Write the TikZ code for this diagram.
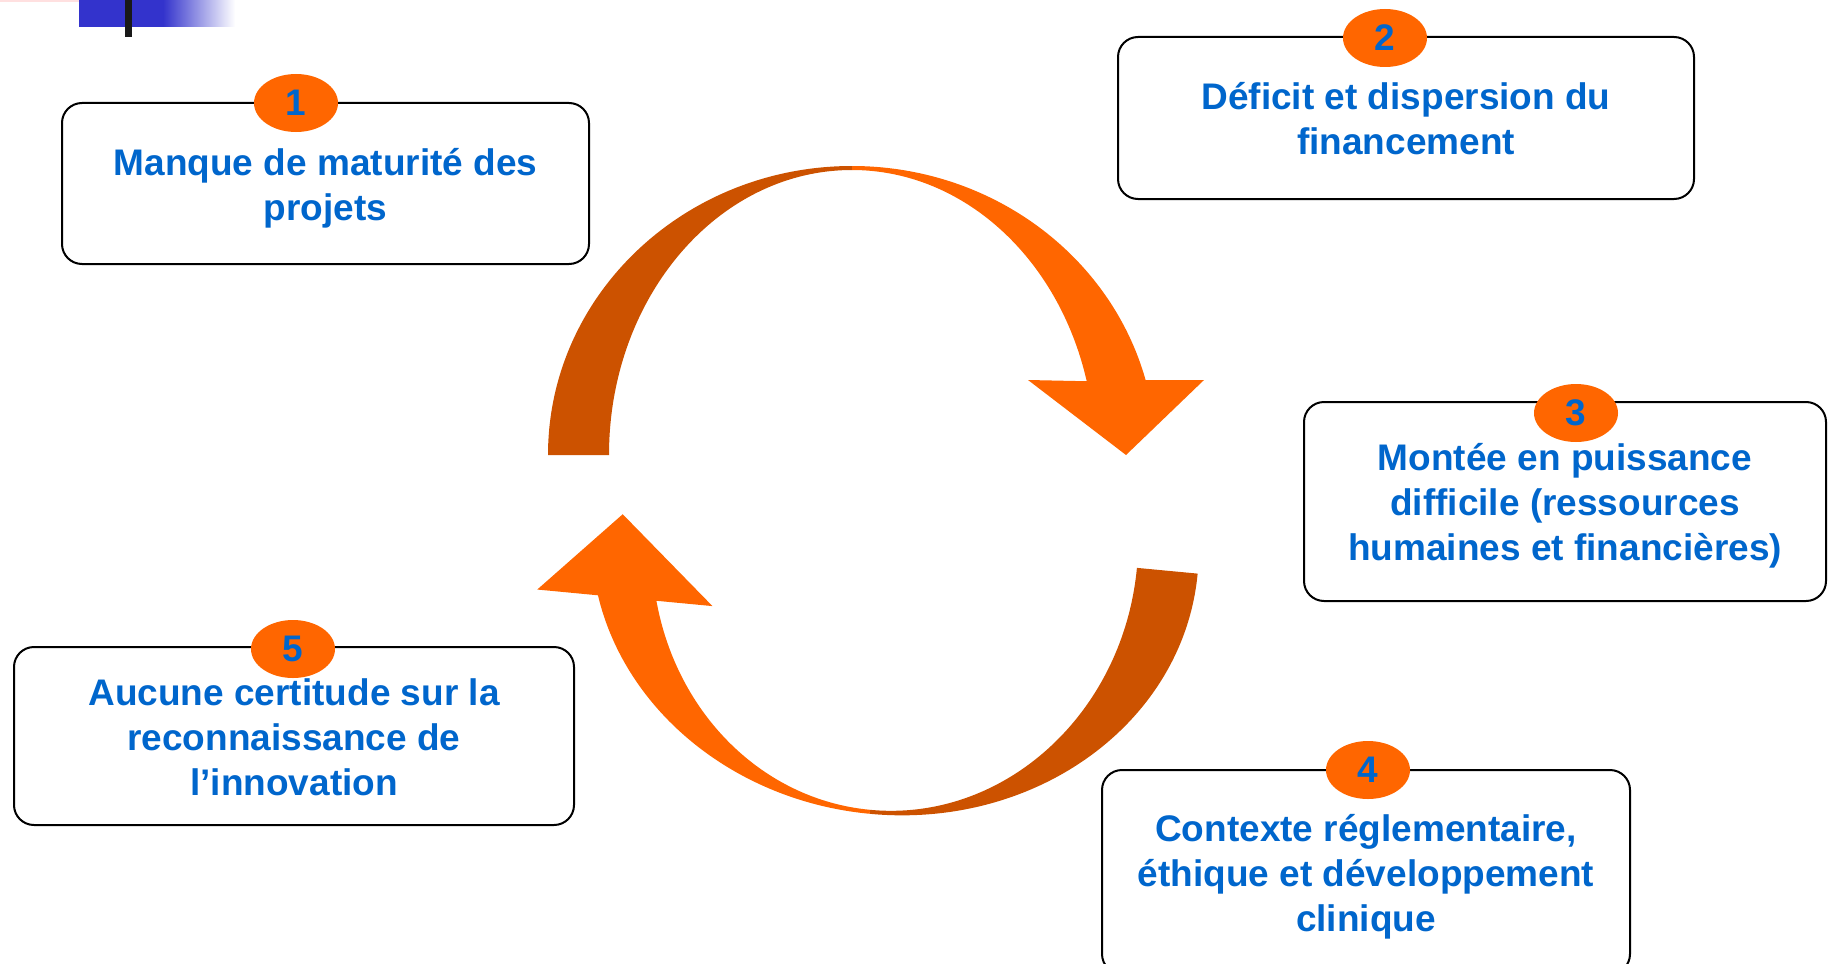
\documentclass[tikz,border=0pt]{standalone}
\usepackage{fontspec}
\setmainfont{Liberation Sans}
\usetikzlibrary{shapes.geometric}
\definecolor{txtblue}{RGB}{0,102,204}
\definecolor{orangeA}{RGB}{255,102,0}
\definecolor{orangeB}{RGB}{204,82,0}
\definecolor{logoblue}{RGB}{51,51,204}
\newcommand\capline{\rule{0pt}{18.2pt}}
\tikzset{
  probbox/.style={draw=black, line width=1pt, rounded corners=10pt, fill=white,
    align=center, text=txtblue, inner sep=0pt,
    font=\bfseries\fontsize{18.5}{22.5}\selectfont,
    execute at end node=\rule[-3.9pt]{0pt}{0pt}},
  badge/.style={ellipse, fill=orangeA, minimum width=42pt, minimum height=29pt,
    inner sep=0pt, text=txtblue, font=\bfseries\fontsize{18.5}{22.5}\selectfont}
}
\begin{document}
\begin{tikzpicture}[x=0.5pt,y=-0.5pt,line join=round]
	\useasboundingbox (0,0) rectangle (1829,963);
	\clip (0,0) rectangle (1829,963);
	% logo corner
	\fill[red!12] (0,0) rectangle (110,2);
	\fill[logoblue] (79,0) rectangle (163,27);
	\shade[left color=logoblue, right color=white] (163,0) rectangle (235,27);
	\fill[black!90] (125,0) rectangle (132,37);
	% upper arrow
	\begin{scope}[shift={(852,455)}]
		\fill[orangeB] (180:304 and 289) arc[start angle=180, end angle=270, x radius=304, y radius=289]
			-- (270:243 and 285) arc[start angle=270, end angle=180, x radius=243, y radius=285] -- cycle;
		\fill[orangeA] (270:304 and 289) arc[start angle=270, end angle=345, x radius=304, y radius=289]
			-- (352,-75) -- (274,0) -- (176,-75)
			-- (345:243 and 285) arc[start angle=345, end angle=270, x radius=243, y radius=285] -- cycle;
	\end{scope}
	% lower arrow
	\begin{scope}[shift={(895,545)}, rotate=174.6]
		\fill[orangeB] (180:304 and 270) arc[start angle=180, end angle=270, x radius=304, y radius=270]
			-- (270:243 and 266) arc[start angle=270, end angle=180, x radius=243, y radius=266] -- cycle;
		\fill[orangeA] (270:304 and 270) arc[start angle=270, end angle=343.2, x radius=304, y radius=270]
			-- (352,-78) -- (274,5) -- (176,-78)
			-- (342.95:243 and 266) arc[start angle=342.95, end angle=270, x radius=243, y radius=266] -- cycle;
	\end{scope}
	% boxes
	\node[probbox, minimum width=263.5pt, minimum height=80.5pt] (box1) at (325.5,183.5) {\capline Manque de maturité des\\projets};
	\node[probbox, minimum width=288pt, minimum height=81pt] (box2) at (1406,118) {\capline Déficit et dispersion du\\financement};
	\node[probbox, minimum width=261pt, minimum height=99.5pt] (box3) at (1565,501.5) {\capline Montée en puissance\\difficile (ressources\\humaines et financières)};
	\node[probbox, minimum width=264pt, minimum height=102pt] (box4) at (1366,872) {\capline Contexte réglementaire,\\éthique et développement\\clinique};
	\node[probbox, minimum width=280pt, minimum height=89pt] (box5) at (294,736) {\capline Aucune certitude sur la\\reconnaissance de\\l’innovation};
	% numbers
	\node[badge] (n1) at (296,103) {1};
	\node[badge] (n2) at (1385,38) {2};
	\node[badge] (n3) at (1576,413) {3};
	\node[badge] (n4) at (1368,770) {4};
	\node[badge] (n5) at (293,649) {5};
\end{tikzpicture}
\end{document}
